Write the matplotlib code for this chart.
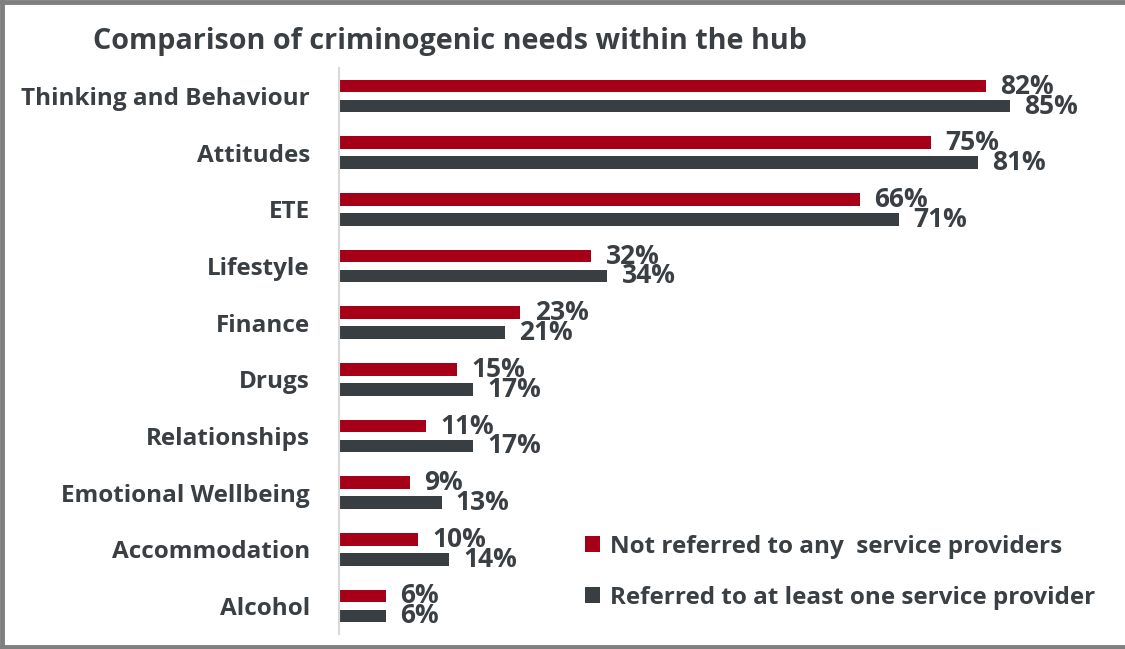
import matplotlib
matplotlib.use("Agg")
import matplotlib.pyplot as plt
from matplotlib.patches import Patch
from matplotlib.lines import Line2D
import numpy as np

plt.rcParams["font.family"] = ["Open Sans", "DejaVu Sans"]
plt.rcParams["font.weight"] = "bold"

# ---- dati ----
categories = ["Thinking and Behaviour", "Attitudes", "ETE", "Lifestyle", "Finance",
              "Drugs", "Relationships", "Emotional Wellbeing", "Accommodation", "Alcohol"]
not_referred = [82, 75, 66, 32, 23, 15, 11, 9, 10, 6]
referred = [85, 81, 71, 34, 21, 17, 17, 13, 14, 6]
series_names = ["Not referred to any  service providers",
                "Referred to at least one service provider"]

RED = "#a50017"
GREY = "#383e42"
TXT = "#3a3f44"

W, H = 1125, 649
fig = plt.figure(figsize=(W / 100, H / 100), dpi=100)

# asse: x=0 a 339px, 100% a ~1128px
x0, x100 = 339, 1128
y_top, y_bot = 67.7, 634.3
ax = fig.add_axes([x0 / W, 1 - y_bot / H, (x100 - x0) / W, (y_bot - y_top) / H])

y = np.arange(len(categories))
off, h = 0.176, 0.22
ax.barh(y - off, not_referred, height=h, color=RED)
ax.barh(y + off, referred, height=h, color=GREY)

for yi, a, b in zip(y, not_referred, referred):
    ax.text(a + 1.8, yi - off, f"{a}%", va="center", ha="left", fontsize=19, color=TXT)
    ax.text(b + 1.8, yi + off, f"{b}%", va="center", ha="left", fontsize=19, color=TXT)

ax.set_xlim(0, 100)
ax.set_ylim(len(categories) - 0.5, -0.5)
ax.set_yticks(y)
ax.set_yticklabels(categories, fontsize=17.5, color=TXT)
ax.tick_params(axis="y", length=0, pad=21)
ax.set_xticks([])
for s in ["top", "right", "bottom"]:
    ax.spines[s].set_visible(False)
ax.spines["left"].set_color("#d9d9d9")
ax.spines["left"].set_linewidth(1.5)

fig.text(93 / W, 1 - 41 / H, "Comparison of criminogenic needs within the hub",
         fontsize=20.7, color=TXT, va="center", ha="left")

handles = [Patch(facecolor=RED), Patch(facecolor=GREY)]
fig.legend(handles, series_names, loc="upper left", bbox_to_anchor=(563 / W, 1 - 513 / H),
           frameon=False, fontsize=17.5, handlelength=0.62, handleheight=0.62,
           handletextpad=0.4, labelspacing=1.1, labelcolor=TXT)

# cornice grigia (sopra, sinistra, sotto)
for xs, ys in [([0, 1], [1 - 1.5 / H] * 2), ([1.5 / W] * 2, [0, 1]), ([0, 1], [2.5 / H] * 2)]:
    fig.add_artist(Line2D(xs, ys, transform=fig.transFigure, color="#7f7f7f", lw=3.5))

fig.savefig("out.png", dpi=100)
